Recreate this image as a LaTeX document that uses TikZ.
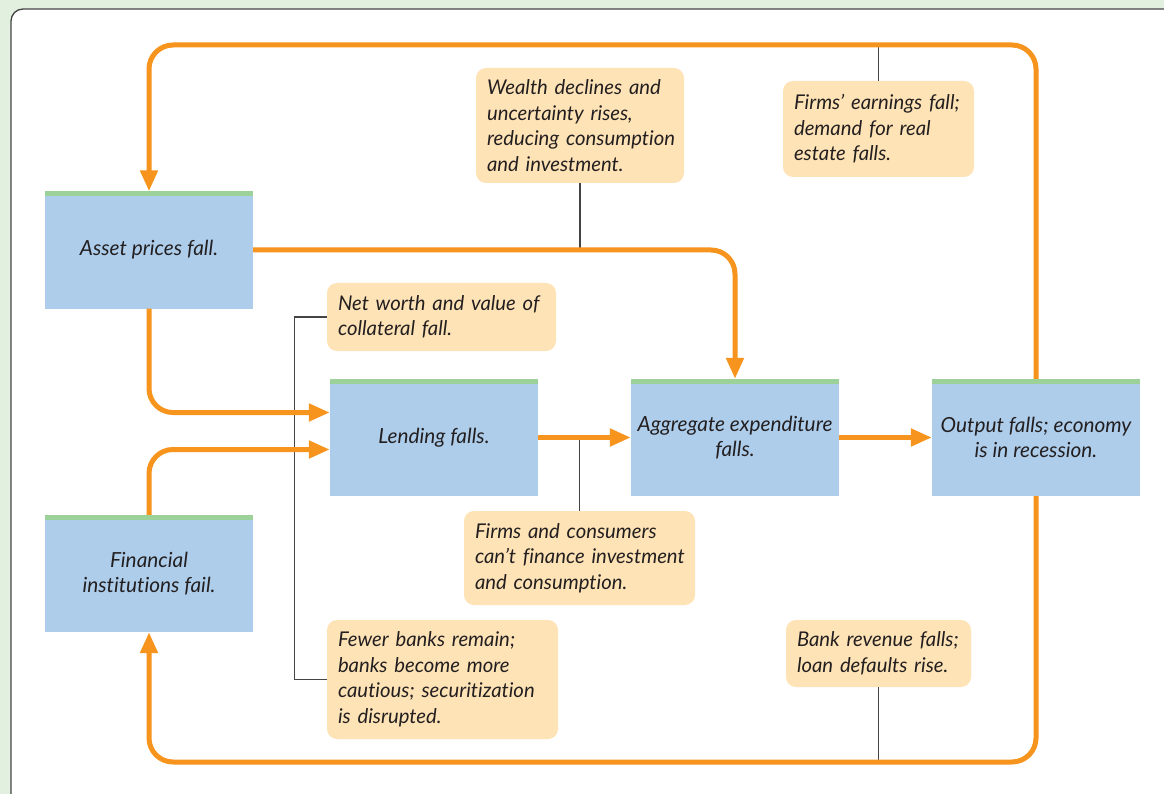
\documentclass[tikz,border=0pt]{standalone}
\usepackage{fontspec}
\setmainfont{Lato}[Ligatures={NoCommon}]
\usetikzlibrary{arrows.meta,calc}
\definecolor{bggreen}{HTML}{E2F0E0}
\definecolor{boxblue}{HTML}{ADCDEB}
\definecolor{bargreen}{HTML}{9CD29A}
\definecolor{peach}{HTML}{FEE3B6}
\definecolor{arrorange}{HTML}{F7941E}
\definecolor{txt}{HTML}{231F20}
\definecolor{thin}{HTML}{444444}
\tikzset{
  mainbox/.style={fill=boxblue, minimum width=208pt, minimum height=117pt, inner sep=0pt, align=center, font=\fontsize{20.8}{25}\selectfont\itshape, text=txt},
  callout/.style={fill=peach, rounded corners=10pt, inner xsep=11pt, inner ysep=0pt, align=left, font=\fontsize{20.3}{25.5}\selectfont\itshape, text=txt},
  flow/.style={draw=arrorange, line width=5pt, rounded corners=24pt},
  flowarrow/.style={flow, -{Triangle[length=21pt,width=17pt]}},
  link/.style={draw=thin, line width=1.3pt},
}
\newcommand{\greenbar}[1]{\fill[bargreen] (#1.north west) rectangle ([yshift=-5pt]#1.north east);}
\begin{document}
\begin{tikzpicture}[x=1pt,y=-1pt]
\useasboundingbox (0,0) rectangle (1164,794);
\fill[bggreen] (0,0) rectangle (1164,794);
\draw[fill=white, draw=thin, line width=1.3pt, rounded corners=12pt] (11,9) rectangle (1200,830);

% main boxes
\node[mainbox] (asset) at (149,250) {Asset prices fall.};
\node[mainbox] (lend) at (434,437.5) {Lending falls.};
\node[mainbox] (agg) at (735,437.5) {Aggregate expenditure\\falls.};
\node[mainbox] (out) at (1036,437.5) {Output falls; economy\\is in recession.};
\node[mainbox] (fin) at (149,573.5) {Financial\\institutions fail.};
\greenbar{asset}\greenbar{lend}\greenbar{agg}\greenbar{out}\greenbar{fin}

% callouts
\node[callout, text width=186pt, minimum height=115pt] (wealth) at (580,125.5) {\mbox{Wealth declines and}\\\mbox{uncertainty rises,}\\\mbox{reducing consumption}\\\mbox{and investment.}};
\node[callout, text width=169pt, minimum height=96pt] (earn) at (878.5,129) {\mbox{Firms’ earnings fall;}\\\mbox{demand for real}\\\mbox{estate falls.}};
\node[callout, text width=207pt, minimum height=68pt] (net) at (441.5,317) {\mbox{Net worth and value of}\\\mbox{collateral fall.}};
\node[callout, text width=209pt, minimum height=94pt] (fc) at (579.5,558) {\mbox{Firms and consumers}\\\mbox{can’t finance investment}\\\mbox{and consumption.}};
\node[callout, text width=209pt, minimum height=119pt] (fewer) at (442.5,679.5) {\mbox{Fewer banks remain;}\\\mbox{banks become more}\\\mbox{cautious; securitization}\\\mbox{is disrupted.}};
\node[callout, text width=163pt, minimum height=67pt] (bank) at (878.5,653.5) {\mbox{Bank revenue falls;}\\\mbox{loan defaults rise.}};

\coordinate (top) at (0,45);
\coordinate (bot) at (0,762);

% thin connectors
\draw[link] (wealth.south) -- (wealth.south |- asset.east);
\draw[link] (earn.north) -- (earn.north |- top);
\draw[link] (fc.north) -- (fc.north |- lend.east);
\draw[link] (bank.south) -- (bank.south |- bot);
\draw[link] (net.west) -- ([xshift=-32pt]net.west) |- (fewer.west);

% orange flows
\draw[flowarrow] (out.north) -- (out.north |- top) -- (asset.north |- top) -- (asset.north);
\draw[flowarrow] (asset.east) -- (agg.north |- asset.east) -- (agg.north);
\draw[flowarrow] (asset.south) |- ([yshift=25pt]lend.west);
\draw[flowarrow] (fin.north) |- ([yshift=-12pt]lend.west);
\draw[flowarrow] (lend.east) -- (agg.west);
\draw[flowarrow] (agg.east) -- (out.west);
\draw[flowarrow] (out.south) -- (out.south |- bot) -- (fin.south |- bot) -- (fin.south);
\end{tikzpicture}
\end{document}
